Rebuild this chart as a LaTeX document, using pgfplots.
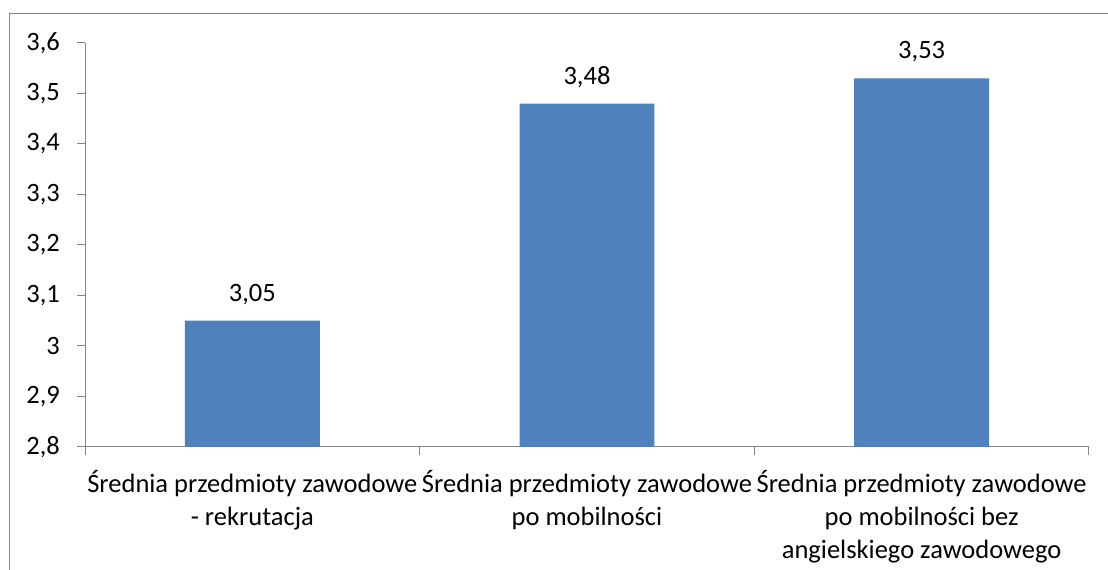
\documentclass[border=0pt]{standalone}
\usepackage{pgfplots}
\pgfplotsset{compat=1.18}
\usepackage{fontspec}
\setmainfont{Carlito}
\definecolor{barblue}{HTML}{4F81BD}
\definecolor{axgray}{HTML}{868686}
\newcommand\cfont{\fontsize{26.5bp}{33bp}\selectfont}

\begin{document}
\begin{tikzpicture}[x=1bp,y=1bp]
\useasboundingbox (0,0) rectangle (1108,570);
% chart frame (cut off at right and bottom)
\draw[axgray, line width=1bp] (9,0) -- (9,556) -- (1108,556);
\begin{axis}[
    at={(85bp,123bp)}, anchor=south west,
    scale only axis, width=1004bp, height=404bp,
    ybar, bar width=0.403,
    xmin=-0.5, xmax=2.5,
    ymin=2.8, ymax=3.6,
    ytick distance=0.1,
    axis x line*=bottom, axis y line*=left,
    axis line style={axgray, line width=1bp, -},
    tick style={axgray, line width=1bp},
    tick align=outside, major tick length=8bp,
    xtick={-0.5,0.5,1.5,2.5}, xticklabels={},
    extra x ticks={0,1,2},
    extra x tick labels={{Średnia przedmioty zawodowe\\- rekrutacja},
                         {Średnia przedmioty zawodowe\\po mobilności},
                         {Średnia przedmioty zawodowe\\po mobilności bez\\angielskiego zawodowego}},
    extra x tick style={major tick length=0pt,
        xticklabel style={font=\cfont, align=center, inner sep=0pt, anchor=north, yshift=-23bp}},
    /pgf/number format/assume math mode=true,
    yticklabel style={font=\cfont, inner sep=0pt, anchor=east, xshift=-17bp,
        /pgf/number format/fixed, /pgf/number format/precision=1,
        /pgf/number format/use comma},
    point meta=y,
    nodes near coords={\pgfmathprintnumber[fixed,zerofill,precision=2,use comma,assume math mode=true]{\pgfplotspointmeta}},
    every node near coord/.append style={font=\cfont, text=black, inner sep=0pt, anchor=south, yshift=16bp},
]
\addplot[fill=barblue, draw=none] coordinates {(0,3.05) (1,3.48) (2,3.53)};
\end{axis}
\end{tikzpicture}
\end{document}
